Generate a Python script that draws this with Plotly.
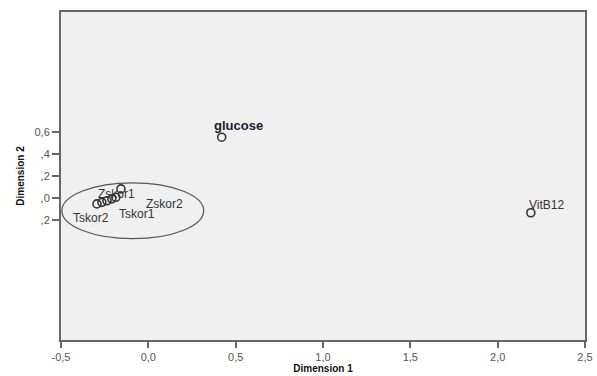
import plotly.graph_objects as go

# Data
names = ["Tskor2", "Tskor1", "Zskor2", "", "", "Zskor1", "glucose", "VitB12"]
dim1 = [-0.294, -0.266, -0.237, -0.209, -0.186, -0.157, 0.42, 2.19]
dim2 = [-0.055, -0.041, -0.027, -0.009, 0.005, 0.082, 0.555, -0.136]

x_ticks = [-0.5, 0.0, 0.5, 1.0, 1.5, 2.0, 2.5]
x_ticktext = ["-0,5", "0,0", "0,5", "1,0", "1,5", "2,0", "2,5"]
y_ticks = [-0.2, 0.0, 0.2, 0.4, 0.6]
y_ticktext = [",2", ",0", ",2", ",4", "0,6"]

# label offsets (pixels) for each point
label_shift = {
    "Tskor2": (-6, -14),
    "Tskor1": (35, -12),
    "Zskor2": (58, -3),
    "Zskor1": (-4, -5),
    "glucose": (17, 12),
    "VitB12": (16, 8),
}

fig = go.Figure()
fig.add_trace(go.Scatter(
    x=dim1, y=dim2, mode="markers",
    marker=dict(symbol="circle-open", size=8, color="#333333", line=dict(width=1.6)),
    hoverinfo="text", text=names, showlegend=False, cliponaxis=False,
))

annotations = []
for n, xv, yv in zip(names, dim1, dim2):
    if not n:
        continue
    dx, dy = label_shift[n]
    bold = n == "glucose"
    annotations.append(dict(
        x=xv, y=yv, xref="x", yref="y", text=f"<b>{n}</b>" if bold else n,
        showarrow=False, xshift=dx, yshift=dy,
        font=dict(family="Liberation Sans, Arial", size=13 if bold else 12,
                  color="#1a1a2e" if bold else "#333333"),
    ))

fig.add_shape(type="circle", xref="x", yref="y",
              x0=-0.089 - 0.406, x1=-0.089 + 0.406,
              y0=-0.118 - 0.255, y1=-0.118 + 0.255,
              line=dict(color="#555555", width=1.2))

fig.update_layout(
    width=597, height=376,
    paper_bgcolor="white", plot_bgcolor="#f0f0f0",
    margin=dict(l=61, r=12, t=12, b=36),
    font=dict(family="Liberation Sans, Arial", size=11, color="#555555"),
    annotations=annotations,
    xaxis=dict(range=[-0.5, 2.5], tickvals=x_ticks, ticktext=x_ticktext,
               automargin=False,
               showgrid=False, zeroline=False, showline=True, mirror=True,
               linecolor="#666666", linewidth=2, ticks="outside", ticklen=6,
               tickcolor="#666666", tickwidth=2,
               tickfont=dict(size=11, color="#555555"),
               title=dict(text="<b>Dimension 1</b>", standoff=2,
                          font=dict(size=10, color="#111111"))),
    yaxis=dict(range=[-1.3, 1.7], tickvals=y_ticks, ticktext=y_ticktext,
               automargin=False,
               showgrid=False, zeroline=False, showline=True, mirror=True,
               linecolor="#666666", linewidth=2, ticks="outside", ticklen=7,
               tickcolor="#666666", tickwidth=2,
               tickfont=dict(size=11, color="#555555"),
               title=dict(text="<b>Dimension 2</b>", standoff=8,
                          font=dict(size=10, color="#111111"))),
)

# remove the page's default body margin so the figure fills the window exactly
fig.write_html(
    "out.html",
    config={"displayModeBar": False},
    post_script="document.body.style.margin='0';document.body.style.overflow='hidden';",
)
